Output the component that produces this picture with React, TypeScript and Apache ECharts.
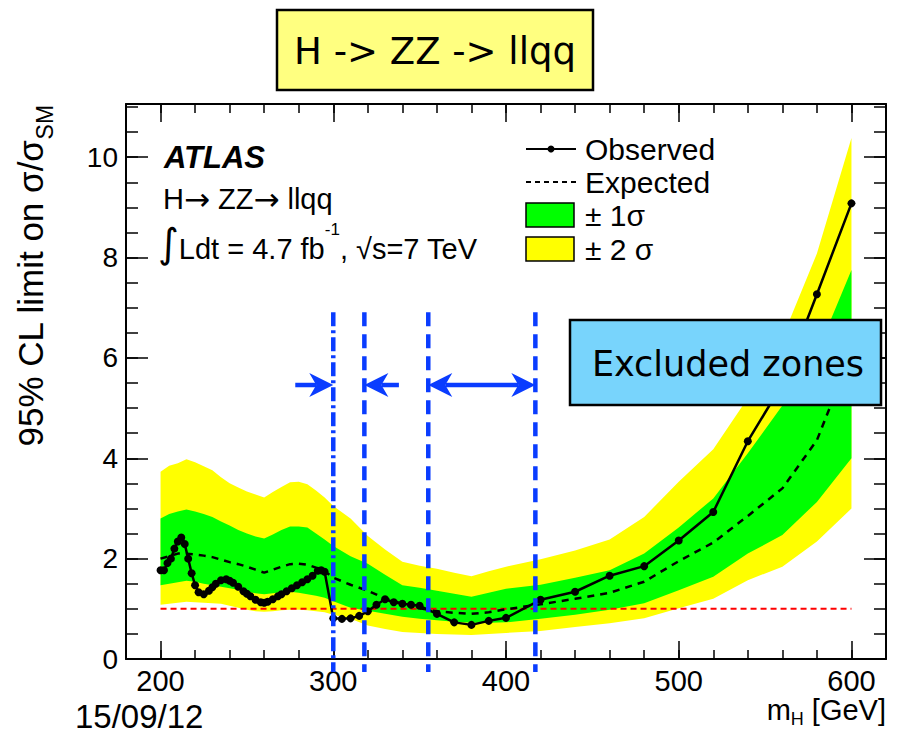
import React, { useEffect, useRef } from 'react';
import * as echarts from 'echarts';

// ---------- data ----------
const bandMass = [200, 205, 210, 215, 220, 225, 230, 235, 240, 245, 250, 255, 260, 265, 270, 275, 280, 285, 290, 295, 300, 310, 320, 330, 340, 350, 360, 370, 380, 390, 400, 420, 440, 460, 480, 500, 520, 540, 560, 580, 600];
const twoSigmaUp = [3.73, 3.85, 3.90, 3.98, 3.92, 3.84, 3.76, 3.62, 3.50, 3.42, 3.34, 3.28, 3.22, 3.33, 3.43, 3.52, 3.53, 3.48, 3.36, 3.22, 3.05, 2.80, 2.45, 2.18, 1.94, 1.86, 1.80, 1.72, 1.65, 1.75, 1.84, 1.99, 2.16, 2.38, 2.83, 3.53, 4.18, 5.20, 6.40, 8.08, 10.38];
const oneSigmaUp = [2.80, 2.89, 2.94, 2.98, 2.94, 2.89, 2.83, 2.74, 2.66, 2.57, 2.50, 2.44, 2.40, 2.48, 2.57, 2.64, 2.64, 2.62, 2.50, 2.38, 2.25, 2.05, 1.90, 1.68, 1.47, 1.42, 1.36, 1.30, 1.24, 1.32, 1.40, 1.48, 1.62, 1.77, 2.10, 2.62, 3.20, 4.10, 5.05, 6.10, 7.75];
const oneSigmaDown = [1.47, 1.50, 1.53, 1.56, 1.54, 1.50, 1.47, 1.44, 1.41, 1.38, 1.34, 1.31, 1.29, 1.31, 1.33, 1.34, 1.32, 1.29, 1.26, 1.22, 1.15, 1.02, 0.96, 0.90, 0.84, 0.80, 0.77, 0.74, 0.72, 0.72, 0.73, 0.80, 0.88, 0.98, 1.11, 1.37, 1.64, 2.10, 2.47, 3.13, 4.00];
const twoSigmaDown = [1.08, 1.10, 1.12, 1.14, 1.13, 1.12, 1.11, 1.10, 1.06, 1.02, 0.98, 0.95, 0.94, 0.95, 0.97, 0.98, 0.98, 0.97, 0.95, 0.93, 0.88, 0.80, 0.67, 0.60, 0.54, 0.52, 0.50, 0.49, 0.48, 0.50, 0.52, 0.56, 0.64, 0.71, 0.81, 1.01, 1.20, 1.57, 1.84, 2.34, 3.00];
const expectedLimit = [2.00, 2.05, 2.10, 2.10, 2.08, 2.06, 2.03, 1.98, 1.93, 1.89, 1.84, 1.78, 1.72, 1.78, 1.84, 1.89, 1.90, 1.88, 1.82, 1.75, 1.62, 1.48, 1.36, 1.21, 1.10, 1.01, 0.95, 0.92, 0.90, 0.93, 0.99, 1.09, 1.20, 1.32, 1.54, 1.95, 2.32, 2.85, 3.40, 4.36, 6.10];

const obsMass = [200, 202, 204, 206, 208, 210, 212, 214, 216, 218, 220, 222, 225, 228, 230, 232, 235, 238, 240, 242, 245, 248, 250, 252, 255, 258, 260, 262, 265, 268, 270, 273, 276, 279, 282, 285, 288, 291, 293, 295, 300, 305, 310, 315, 320, 325, 330, 335, 340, 345, 350, 360, 370, 380, 390, 400, 420, 440, 460, 480, 500, 520, 540, 560, 580, 600];
const observedLimit = [1.77, 1.77, 1.91, 2.00, 2.20, 2.34, 2.42, 2.29, 2.00, 1.71, 1.47, 1.33, 1.29, 1.36, 1.43, 1.50, 1.57, 1.59, 1.56, 1.52, 1.44, 1.35, 1.30, 1.25, 1.18, 1.13, 1.12, 1.14, 1.19, 1.25, 1.29, 1.35, 1.41, 1.47, 1.53, 1.59, 1.66, 1.76, 1.77, 1.74, 0.81, 0.80, 0.81, 0.86, 0.95, 1.08, 1.19, 1.13, 1.10, 1.08, 1.06, 0.90, 0.73, 0.68, 0.76, 0.82, 1.18, 1.34, 1.66, 1.85, 2.36, 2.93, 4.34, 5.48, 7.27, 9.08];

const smReference = 1;
const exclusionEdges = [300, 318, 355, 417];
const exclusionArrows = [
  [278, 300, 0],
  [338, 318, 0],
  [355, 417, 1],
];
const arrowLevel = 5.46;
const edgeTop = 6.91;
const edgeBottom = -0.26;

const xMajorTicks = [200, 300, 400, 500, 600];
const yMajorTicks = [0, 2, 4, 6, 8, 10];

// ---------- styling ----------
const F = "'Liberation Sans', Arial, Helvetica, sans-serif";
const FUN = "'DejaVu Sans', 'Noto Sans', sans-serif";
const YELLOW = '#ffff00';
const GREEN = '#00ff00';
const BLUE = '#0a3cff';

function bandSeries(up: number[], down: number[], color: string, z: number) {
  return {
    type: 'custom',
    coordinateSystem: 'cartesian2d',
    xAxisIndex: 0,
    yAxisIndex: 0,
    silent: true,
    z,
    data: bandMass.map((m, i) => [m, up[i], down[i]]),
    encode: { x: 0, y: [1, 2] },
    renderItem: (params: any, api: any) => {
      if (params.dataIndex !== 0) return null;
      const pts: number[][] = [];
      for (let i = 0; i < bandMass.length; i++) pts.push(api.coord([bandMass[i], up[i]]));
      for (let i = bandMass.length - 1; i >= 0; i--) pts.push(api.coord([bandMass[i], down[i]]));
      return { type: 'polygon', shape: { points: pts }, style: { fill: color, stroke: null } };
    },
  };
}

export default function App() {
  const ref = useRef<HTMLDivElement>(null);
  useEffect(() => {
    const chart = echarts.init(ref.current!, null, { renderer: 'svg' });
    const xBase = {
      type: 'value', min: 180, max: 620, gridIndex: 0,
      splitLine: { show: false }, axisLabel: { show: false },
      axisLine: { show: false, onZero: false }, axisTick: { show: false },
    };
    const yBase = {
      type: 'value', min: 0, max: 11.06, gridIndex: 0,
      splitLine: { show: false }, axisLabel: { show: false },
      axisLine: { show: false, onZero: false }, axisTick: { show: false },
    };
    const frame = { show: true, onZero: false, lineStyle: { color: '#000', width: 2 } };
    const tickStyle = { color: '#000', width: 1.5 };
    const mid = { textVerticalAlign: 'middle', verticalAlign: 'middle' };

    const option: any = {
      animation: false,
      backgroundColor: '#ffffff',
      grid: { left: 126, right: 28, top: 104, bottom: 76, containLabel: false, outerBoundsMode: 'none' },
      xAxis: [
        { ...xBase, position: 'bottom', interval: 20, axisLine: frame,
          axisTick: { show: true, inside: true, length: 9, lineStyle: tickStyle } },
        { ...xBase, position: 'bottom',
          axisTick: { show: true, inside: true, length: 18, customValues: xMajorTicks, lineStyle: tickStyle },
          axisLabel: { show: true, customValues: xMajorTicks, fontSize: 29, fontFamily: F, color: '#000', margin: 7 } },
        { ...xBase, position: 'top', interval: 20, axisLine: frame,
          axisTick: { show: true, inside: true, length: 9, lineStyle: tickStyle } },
        { ...xBase, position: 'top',
          axisTick: { show: true, inside: true, length: 18, customValues: xMajorTicks, lineStyle: tickStyle } },
      ],
      yAxis: [
        { ...yBase, position: 'left', interval: 0.5, axisLine: frame,
          axisTick: { show: true, inside: true, length: 12, lineStyle: tickStyle } },
        { ...yBase, position: 'left',
          axisTick: { show: true, inside: true, length: 22, customValues: yMajorTicks, lineStyle: tickStyle },
          axisLabel: { show: true, customValues: yMajorTicks, fontSize: 28, fontFamily: F, color: '#000', margin: 8 } },
        { ...yBase, position: 'right', interval: 0.5, axisLine: frame,
          axisTick: { show: true, inside: true, length: 12, lineStyle: tickStyle } },
        { ...yBase, position: 'right',
          axisTick: { show: true, inside: true, length: 22, customValues: yMajorTicks, lineStyle: tickStyle } },
      ],
      series: [
        bandSeries(twoSigmaUp, twoSigmaDown, YELLOW, 1),
        bandSeries(oneSigmaUp, oneSigmaDown, GREEN, 2),
        {
          type: 'line', xAxisIndex: 0, yAxisIndex: 0, z: 3, silent: true,
          data: [[bandMass[0], smReference], [bandMass[bandMass.length - 1], smReference]],
          showSymbol: false, symbol: 'none',
          lineStyle: { color: '#ff0000', width: 2, type: [6, 4] },
        },
        {
          type: 'line', xAxisIndex: 0, yAxisIndex: 0, z: 4, silent: true,
          data: bandMass.map((m, i) => [m, expectedLimit[i]]),
          showSymbol: false, symbol: 'none',
          lineStyle: { color: '#000', width: 2.5, type: [7, 6] },
        },
        {
          type: 'line', xAxisIndex: 0, yAxisIndex: 0, z: 5, silent: true,
          data: obsMass.map((m, i) => [m, observedLimit[i]]),
          symbol: 'circle', symbolSize: 8, showSymbol: true,
          itemStyle: { color: '#000' },
          lineStyle: { color: '#000', width: 2.5 },
        },
        {
          type: 'custom', xAxisIndex: 0, yAxisIndex: 0, z: 6, silent: true, clip: false,
          data: exclusionEdges.map((m) => [m]),
          encode: { x: 0 },
          renderItem: (params: any, api: any) => {
            const m = exclusionEdges[params.dataIndex];
            const p1 = api.coord([m, edgeTop]);
            const p2 = api.coord([m, edgeBottom]);
            return {
              type: 'line',
              shape: { x1: p1[0], y1: p1[1], x2: p2[0], y2: p2[1] },
              style: { stroke: BLUE, lineWidth: 4.5, lineDash: params.dataIndex === 0 ? [14, 4, 3, 4] : [14, 8] },
            };
          },
        },
        {
          type: 'custom', xAxisIndex: 0, yAxisIndex: 0, z: 7, silent: true, clip: false,
          data: exclusionArrows,
          encode: { x: [0, 1] },
          renderItem: (params: any, api: any) => {
            const a = exclusionArrows[params.dataIndex];
            const p1 = api.coord([a[0], arrowLevel]);
            const p2 = api.coord([a[1], arrowLevel]);
            const dx = p2[0] - p1[0];
            const dir = dx > 0 ? 1 : -1;
            const L = 24, W = 12, N = 7;
            const head = (tip: number[], d: number) => ({
              type: 'polygon',
              shape: { points: [
                [tip[0], tip[1]],
                [tip[0] - d * L, tip[1] - W],
                [tip[0] - d * (L - N), tip[1]],
                [tip[0] - d * L, tip[1] + W],
              ] },
              style: { fill: BLUE },
            });
            const children: any[] = [
              { type: 'line', shape: { x1: a[2] ? p1[0] + dir * (L - N) : p1[0], y1: p1[1], x2: p2[0] - dir * (L - N), y2: p2[1] },
                style: { stroke: BLUE, lineWidth: 4.5 } },
              head(p2, dir),
            ];
            if (a[2]) children.push(head(p1, -dir));
            return { type: 'group', children };
          },
        },
      ],
      graphic: [
        // title box
        { type: 'rect', z: 100, shape: { x: 277, y: 10, width: 316, height: 80 },
          style: { fill: '#ffff80', stroke: '#000', lineWidth: 2.5 } },
        { type: 'text', z: 101, x: 435, y: 51,
          style: { text: 'H -> ZZ -> llqq', fontSize: 37, fontFamily: FUN, fill: '#000',
            textAlign: 'center', align: 'center', ...mid } },
        // excluded zones box
        { type: 'rect', z: 100, shape: { x: 570, y: 320, width: 311, height: 85 },
          style: { fill: '#78d4fc', stroke: '#000', lineWidth: 2.5 } },
        { type: 'text', z: 101, x: 728, y: 364,
          style: { text: 'Excluded zones', fontSize: 35, fontFamily: FUN, fill: '#000',
            textAlign: 'center', align: 'center', ...mid } },
        // ATLAS labels
        { type: 'text', z: 100, x: 164, y: 157,
          style: { text: 'ATLAS', fontSize: 31, fontWeight: 'bold', fontStyle: 'italic', fontFamily: F, fill: '#000', ...mid } },
        { type: 'text', z: 100, x: 163, y: 199,
          style: { text: '{n|H}{a|\u2192}{n| ZZ}{a|\u2192}{n| llqq}', fill: '#000', ...mid,
            rich: {
              n: { fontSize: 29, fontFamily: F, fill: '#000' },
              a: { fontSize: 31, fontFamily: 'DejaVu Sans', fill: '#000' },
            } } },
        { type: 'text', z: 100, x: 158, y: 242,
          style: { text: '{i|\u222B}{n|Ldt = 4.7 fb}{p|-1}{n|, \u221As=7 TeV}', fill: '#000', ...mid,
            rich: {
              i: { fontSize: 40, fontFamily: 'DejaVu Sans', lineHeight: 42, verticalAlign: 'bottom', fill: '#000' },
              n: { fontSize: 29, fontFamily: F, lineHeight: 36, verticalAlign: 'bottom', fill: '#000' },
              p: { fontSize: 17, fontFamily: F, lineHeight: 28, verticalAlign: 'top', fill: '#000' },
            } } },
        // legend
        { type: 'line', z: 100, shape: { x1: 526, y1: 149, x2: 576, y2: 149 }, style: { stroke: '#000', lineWidth: 2 } },
        { type: 'circle', z: 100, shape: { cx: 551, cy: 149, r: 3.5 }, style: { fill: '#000' } },
        { type: 'text', z: 100, x: 585, y: 149,
          style: { text: 'Observed', fontSize: 30, fontFamily: F, fill: '#000', ...mid } },
        { type: 'line', z: 100, shape: { x1: 526, y1: 182, x2: 576, y2: 182 }, style: { stroke: '#000', lineWidth: 2, lineDash: [5, 4] } },
        { type: 'text', z: 100, x: 585, y: 182,
          style: { text: 'Expected', fontSize: 30, fontFamily: F, fill: '#000', ...mid } },
        { type: 'rect', z: 100, shape: { x: 526, y: 203, width: 48, height: 24 }, style: { fill: GREEN, stroke: '#000', lineWidth: 1.5 } },
        { type: 'text', z: 100, x: 585, y: 215,
          style: { text: '\u00B1 1\u03C3', fontSize: 30, fontFamily: F, fill: '#000', ...mid } },
        { type: 'rect', z: 100, shape: { x: 526, y: 237, width: 48, height: 24 }, style: { fill: YELLOW, stroke: '#000', lineWidth: 1.5 } },
        { type: 'text', z: 100, x: 585, y: 249,
          style: { text: '\u00B1 2 \u03C3', fontSize: 30, fontFamily: F, fill: '#000', ...mid } },
        // y axis title
        { type: 'text', z: 100, x: 32, y: 276, rotation: Math.PI / 2,
          style: { text: '{n|95% CL limit on \u03C3/\u03C3}{s|SM}', fill: '#000',
            textAlign: 'center', align: 'center', ...mid,
            rich: {
              n: { fontSize: 35, fontFamily: F, lineHeight: 38, verticalAlign: 'top', fill: '#000' },
              s: { fontSize: 23, fontFamily: F, lineHeight: 23, verticalAlign: 'top', padding: [20, 0, 0, 0], fill: '#000' },
            } } },
        // x axis title
        { type: 'text', z: 100, x: 886, y: 711,
          style: { text: '{n|m}{s|H}{n| [GeV]}', fill: '#000',
            textAlign: 'right', align: 'right', ...mid,
            rich: {
              n: { fontSize: 29, fontFamily: F, lineHeight: 31, verticalAlign: 'top', fill: '#000' },
              s: { fontSize: 18, fontFamily: F, lineHeight: 18, verticalAlign: 'top', padding: [14, 0, 0, 0], fill: '#000' },
            } } },
        // date
        { type: 'text', z: 100, x: 75, y: 716,
          style: { text: '15/09/12', fontSize: 33, fontFamily: F, fill: '#000', ...mid } },
      ],
    };
    chart.setOption(option);
    return () => chart.dispose();
  }, []);
  return <div ref={ref} style={{ position: 'fixed', left: 0, top: 0, width: 914, height: 735, background: '#fff' }} />;
}
